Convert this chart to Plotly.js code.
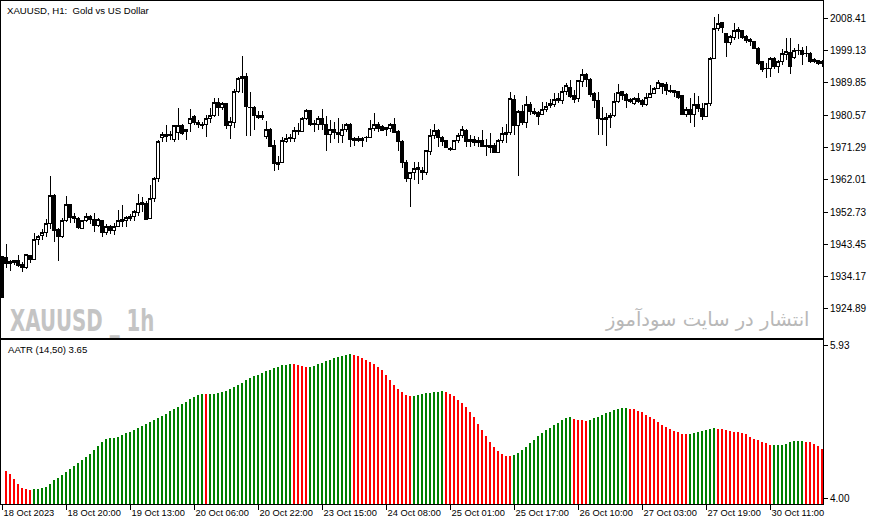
<!DOCTYPE html>
<html><head><meta charset="utf-8">
<script src="https://cdn.plot.ly/plotly-3.0.1.min.js"></script>
<style>
html,body{margin:0;padding:0;background:#fff;}
#chart{width:876px;height:525px;}
#chart .trace path, #chart .xaxislayer-above path, #chart .yaxislayer-above path, #chart path.xlines-above, #chart path.ylines-above {shape-rendering: crispEdges;}
</style>
</head><body><div id="chart"></div>
<script>
// Bar index of the first (partially hidden) candle
const firstBar = -1;

// H1 candles, XAUUSD (index -1 .. 204)
const openP = [
1939.9,
1939.8,1938.0,1938.7,1938.7,1937.8,1936.9,1940.3,1939.2,1944.9,1945.9,
1946.9,1949.5,1957.6,1947.6,1945.7,1950.3,1954.8,1951.4,1950.9,1948.0,
1950.3,1951.6,1950.7,1948.9,1950.2,1946.9,1948.6,1947.4,1948.6,1950.5,
1950.2,1951.6,1951.4,1952.6,1955.6,1955.1,1950.8,1956.7,1962.3,1974.2,
1974.5,1974.8,1973.5,1975.6,1977.5,1976.5,1978.2,1980.2,1978.4,1977.5,
1977.8,1979.5,1980.4,1984.2,1982.8,1983.8,1977.5,1978.4,1987.3,1991.2,
1991.8,1982.9,1982.8,1980.6,1979.8,1974.4,1976.5,1972.0,1967.0,1966.9,
1973.0,1974.2,1973.9,1976.3,1975.8,1979.5,1981.8,1978.0,1977.8,1979.7,
1978.0,1975.1,1976.5,1975.7,1974.8,1976.5,1978.0,1973.8,1973.4,1973.3,
1974.2,1974.2,1976.8,1978.0,1977.3,1976.9,1976.7,1978.0,1975.8,1973.0,
1967.0,1962.4,1964.0,1965.5,1964.8,1964.0,1970.2,1974.8,1976.3,1974.2,
1973.2,1971.1,1970.8,1973.2,1974.8,1976.3,1973.0,1973.6,1972.7,1973.4,
1971.8,1972.0,1972.0,1969.8,1973.3,1975.0,1975.6,1985.1,1977.5,1981.6,
1978.4,1983.5,1981.6,1981.3,1980.9,1982.1,1983.3,1983.5,1984.9,1984.9,
1987.3,1988.6,1986.1,1985.4,1990.2,1992.4,1990.9,1986.9,1984.8,1979.7,
1979.4,1980.0,1980.6,1984.5,1987.3,1986.4,1985.1,1984.0,1985.4,1984.8,
1983.5,1985.7,1986.9,1988.3,1989.7,1989.3,1987.8,1987.8,1987.3,1986.1,
1980.9,1982.3,1980.9,1983.5,1982.5,1980.1,1983.8,1996.9,2005.5,2007.2,
2003.9,2001.4,2003.0,2004.6,2004.9,2003.1,2002.2,2001.7,1999.8,1996.0,
1994.0,1994.0,1996.9,1994.5,1996.0,1997.9,1998.5,1997.2,1999.3,1999.3,
1998.4,1998.4,1996.0,1996.2,1995.3
];
const highP = [
1940.2,
1943.5,1939.0,1939.1,1940.4,1938.5,1940.6,1940.5,1946.6,1946.1,1948.0,
1950.6,1963.1,1958.0,1948.1,1950.9,1957.4,1955.0,1952.4,1951.2,1950.5,
1952.4,1951.9,1952.6,1950.9,1950.5,1949.3,1948.9,1949.7,1953.3,1954.8,
1951.6,1952.2,1953.3,1957.8,1957.1,1955.8,1960.4,1962.9,1973.4,1975.6,
1977.8,1975.9,1977.8,1982.5,1978.0,1976.5,1982.4,1980.6,1979.2,1978.6,
1980.6,1982.5,1985.6,1985.6,1984.5,1984.2,1980.1,1988.0,1991.6,1997.6,
1992.8,1987.1,1983.2,1981.8,1981.8,1978.9,1977.0,1973.4,1968.7,1974.2,
1975.1,1975.2,1977.3,1978.4,1980.1,1982.3,1982.1,1979.2,1980.3,1982.3,
1980.3,1979.2,1978.7,1979.7,1978.0,1978.4,1978.4,1974.2,1974.5,1974.2,
1974.6,1979.2,1981.3,1978.7,1977.7,1977.3,1978.4,1979.7,1976.3,1973.4,
1967.7,1964.3,1967.2,1967.2,1965.8,1970.6,1976.5,1978.0,1976.6,1974.6,
1973.4,1971.3,1973.4,1975.4,1977.6,1976.5,1974.9,1974.6,1974.4,1976.3,
1973.6,1975.4,1972.5,1973.6,1977.1,1978.0,1987.3,1986.4,1982.1,1983.5,
1986.1,1984.5,1982.5,1981.9,1984.5,1984.5,1985.1,1986.9,1987.0,1988.8,
1989.7,1990.7,1987.8,1990.7,1993.8,1992.8,1991.2,1987.3,1987.3,1983.0,
1981.1,1981.3,1986.9,1989.5,1987.6,1986.9,1985.4,1985.7,1986.9,1985.1,
1987.0,1989.3,1988.6,1990.7,1989.9,1990.2,1989.3,1987.9,1987.4,1986.2,
1983.0,1985.4,1986.9,1986.1,1984.0,1984.2,1997.2,2008.9,2009.7,2007.4,
2004.3,2003.6,2007.0,2005.8,2005.1,2003.6,2002.7,2001.8,2000.1,1996.0,
1995.7,1997.2,1997.4,1996.4,1999.5,2002.7,2002.7,1999.8,2001.0,2000.3,
2000.5,1998.8,1996.9,1996.4,1996.4
];
const lowP = [
1928.0,
1936.6,1935.9,1937.5,1936.9,1935.6,1936.3,1938.0,1939.0,1943.2,1944.7,
1945.5,1947.8,1944.2,1938.8,1945.2,1950.0,1949.5,1949.5,1948.0,1947.9,
1950.0,1949.3,1946.9,1948.5,1945.7,1946.1,1946.4,1946.0,1948.3,1948.5,
1948.3,1950.2,1950.3,1951.7,1952.8,1950.4,1950.6,1955.6,1961.4,1972.8,
1972.8,1973.4,1973.0,1973.5,1974.9,1973.5,1975.8,1977.8,1976.8,1976.6,
1974.4,1978.4,1980.1,1980.4,1982.1,1976.5,1973.6,1976.8,1986.9,1986.9,
1974.6,1974.6,1976.3,1979.4,1979.2,1973.6,1971.5,1964.6,1964.8,1966.7,
1972.5,1973.0,1972.9,1974.8,1975.6,1979.2,1977.5,1975.6,1976.3,1976.3,
1970.4,1972.7,1973.6,1972.7,1972.7,1975.8,1971.5,1971.7,1972.9,1971.5,
1973.0,1973.9,1975.9,1975.6,1976.0,1974.6,1975.8,1975.4,1970.2,1965.3,
1961.5,1954.1,1962.0,1960.8,1962.0,1963.3,1969.1,1973.8,1971.5,1971.7,
1971.0,1970.4,1970.6,1972.5,1974.0,1971.3,1971.3,1971.7,1971.3,1971.3,
1968.7,1969.6,1969.6,1969.6,1972.5,1972.5,1974.9,1974.9,1963.1,1977.8,
1976.8,1980.6,1980.6,1977.8,1980.6,1981.6,1982.5,1983.0,1984.0,1983.8,
1986.4,1985.4,1984.2,1984.5,1988.8,1988.8,1985.9,1982.7,1974.9,1974.9,
1971.7,1976.8,1980.1,1984.0,1984.9,1982.5,1984.0,1983.5,1984.0,1983.0,
1983.2,1985.4,1986.7,1988.0,1986.7,1986.4,1986.9,1985.7,1985.1,1980.6,
1980.1,1978.2,1977.1,1981.6,1979.2,1980.0,1983.2,1996.6,2004.9,2004.3,
1997.2,2000.7,2002.2,2002.4,2002.4,2001.2,2000.5,1999.5,1995.0,1993.1,
1991.2,1991.6,1993.8,1992.8,1995.0,1996.4,1992.4,1996.6,1997.9,1995.0,
1997.4,1995.7,1995.5,1994.9,1994.3
];
const closeP = [
1928.2,
1937.9,1938.5,1938.1,1937.4,1936.9,1940.4,1939.2,1944.9,1945.7,1946.9,
1949.5,1957.6,1947.5,1945.7,1950.4,1954.8,1951.2,1950.8,1948.3,1950.2,
1951.6,1950.5,1948.9,1950.5,1946.9,1948.6,1947.3,1948.7,1950.2,1949.9,
1951.2,1951.0,1952.8,1955.3,1954.9,1950.7,1956.7,1962.5,1973.0,1974.9,
1975.0,1974.9,1977.5,1977.5,1975.4,1975.9,1979.7,1978.4,1977.8,1977.9,
1979.7,1980.6,1984.2,1982.8,1983.8,1977.5,1978.7,1987.3,1991.2,1991.8,
1983.0,1982.8,1980.4,1979.8,1980.5,1976.5,1971.7,1966.7,1966.5,1973.2,
1974.0,1973.8,1976.3,1975.8,1979.7,1981.8,1977.8,1978.1,1979.7,1977.8,
1975.1,1976.5,1975.6,1974.9,1976.5,1978.0,1973.6,1973.2,1973.9,1974.0,
1974.3,1976.8,1978.0,1976.8,1976.3,1976.5,1978.0,1975.6,1972.9,1967.0,
1962.4,1964.0,1965.3,1965.0,1964.0,1970.4,1974.8,1976.3,1974.2,1973.0,
1971.3,1970.6,1973.2,1974.8,1976.5,1973.0,1973.6,1972.7,1973.4,1971.5,
1971.7,1971.3,1969.8,1973.4,1975.2,1975.6,1985.4,1977.5,1981.6,1978.4,
1983.5,1981.6,1981.1,1980.1,1982.3,1983.2,1983.8,1985.1,1985.4,1987.3,
1989.0,1985.9,1985.1,1990.4,1992.4,1990.9,1986.6,1984.8,1979.5,1979.4,
1980.0,1980.6,1984.5,1987.2,1986.2,1984.8,1984.5,1985.4,1984.5,1983.5,
1985.7,1986.9,1988.3,1989.9,1988.8,1987.6,1987.3,1987.0,1985.7,1980.9,
1982.3,1980.9,1983.5,1982.5,1980.1,1984.0,1996.9,2005.5,2007.0,2005.8,
2001.4,2003.1,2004.9,2005.1,2003.0,2002.0,2001.7,1999.8,1995.5,1993.6,
1993.9,1996.9,1994.5,1996.0,1998.2,1998.8,1994.5,1999.3,1999.1,1997.9,
1998.2,1996.0,1996.6,1995.3,1996.0
];

// AATR (14,50) values, bar index 0 .. 204
const atrValues = [
4.351,4.318,4.251,4.192,4.142,4.126,4.113,4.126,4.126,4.142,
4.155,4.192,4.238,4.263,4.301,4.343,4.376,4.418,4.451,4.489,
4.531,4.564,4.614,4.669,4.715,4.756,4.769,4.769,4.781,4.802,
4.827,4.844,4.865,4.890,4.915,4.936,4.965,4.990,5.020,5.045,
5.070,5.099,5.128,5.157,5.187,5.216,5.253,5.283,5.304,5.312,
5.312,5.312,5.316,5.324,5.337,5.354,5.375,5.404,5.429,5.458,
5.492,5.517,5.538,5.558,5.579,5.600,5.617,5.638,5.659,5.675,
5.681,5.692,5.692,5.679,5.667,5.654,5.654,5.667,5.692,5.704,
5.730,5.742,5.767,5.780,5.792,5.805,5.817,5.805,5.792,5.767,
5.742,5.717,5.692,5.654,5.617,5.554,5.491,5.429,5.379,5.341,
5.303,5.291,5.291,5.303,5.316,5.328,5.328,5.341,5.341,5.354,
5.341,5.316,5.291,5.241,5.203,5.153,5.090,5.028,4.940,4.865,
4.790,4.714,4.652,4.602,4.564,4.539,4.539,4.552,4.577,4.614,
4.652,4.702,4.740,4.790,4.827,4.865,4.890,4.927,4.953,4.990,
5.015,5.028,5.003,4.990,4.990,4.980,4.990,5.011,5.023,5.053,
5.078,5.094,5.111,5.124,5.136,5.140,5.132,5.128,5.103,5.090,
5.057,5.027,5.007,4.961,4.927,4.906,4.881,4.856,4.835,4.819,
4.815,4.815,4.831,4.844,4.856,4.869,4.881,4.894,4.877,4.877,
4.865,4.848,4.844,4.840,4.823,4.810,4.781,4.752,4.739,4.714,
4.698,4.681,4.677,4.677,4.677,4.689,4.714,4.727,4.727,4.727,
4.714,4.714,4.689,4.664,4.626
];
// G = rising (green bar), R = falling (red bar), same order as atrValues
const atrTrend = [
"RRRRRRRGGG","GGGGGGGGGG","GGGGGGGGGG","GGGGGGGGGG","GGGGGGGGGG",
"RGGGGGGGGG","GGGGGGGGGG","GGRRRRGGGG","GGGGGGGRRR","RRRRRRRRRR",
"RRGGGGGGGG","RRRRRRRRRR","RRRRRRRGGG","GGGGGGGGGG","GGRRRRGGGG",
"GGGGGGRRRR","RRRRRRRRRR","RGGGGGGGRR","RRRRRRRRRR","RRGGGGGGGG",
"RRRRR"
].join('').split('');

const priceTicks = [1924.89,1934.17,1943.45,1952.73,1962.01,1971.29,1980.57,1989.85,1999.13,2008.41];
const atrTicks = [4.00, 5.93];
const timeLabels = ["18 Oct 2023","18 Oct 20:00","19 Oct 13:00","20 Oct 06:00","20 Oct 22:00",
  "23 Oct 15:00","24 Oct 08:00","25 Oct 01:00","25 Oct 17:00","26 Oct 10:00",
  "27 Oct 03:00","27 Oct 19:00","30 Oct 11:00"];
const timeLabelBars = [0,16,32,48,64,80,96,112,128,144,160,176,192];

const headerText = "XAUUSD, H1:\u00a0 Gold vs US Dollar";
const indicatorText = "AATR (14,50) 3.65";
const watermarkText = "XAUUSD _ 1h";
const siteText = "انتشار در سایت سودآموز";

// ---------- build ----------
const xs = openP.map((_, k) => firstBar + k);
const atrX = atrValues.map((_, k) => k);
const barColors = atrTrend.map(c => c === 'G' ? '#008000' : '#ff0000');
const xRange = [-1.25, 204.25];
const tickPos = timeLabelBars.map(b => b - 0.85);

const traces = [
  {
    type: 'candlestick', x: xs, open: openP, high: highP, low: lowP, close: closeP,
    xaxis: 'x', yaxis: 'y', whiskerwidth: 0, hoverinfo: 'none',
    increasing: {line: {color: '#000000', width: 1}, fillcolor: '#ffffff'},
    decreasing: {line: {color: '#000000', width: 1}, fillcolor: '#000000'}
  },
  {
    type: 'bar', x: atrX, y: atrValues, xaxis: 'x2', yaxis: 'y2', width: 0.5,
    marker: {color: barColors, line: {width: 0}}, hoverinfo: 'none'
  }
];

const axisCommon = {showgrid: false, zeroline: false, showline: true, mirror: true,
  linecolor: '#000000', linewidth: 1, fixedrange: true, tickcolor: '#000000'};

const layout = {
  width: 876, height: 525,
  margin: {l: 1, r: 53, t: 1, b: 21, pad: 0},
  paper_bgcolor: '#ffffff', plot_bgcolor: '#ffffff',
  showlegend: false, hovermode: false, bargap: 0,
  boxgap: 0.25, boxgroupgap: 0,
  font: {family: 'Liberation Sans, Arial, sans-serif', size: 10, color: '#000000'},
  xaxis: Object.assign({}, axisCommon, {
    domain: [0, 1], anchor: 'y', range: xRange, ticks: '', showticklabels: false,
    rangeslider: {visible: false}
  }),
  yaxis: Object.assign({}, axisCommon, {
    domain: [0.330, 1], anchor: 'x', range: [1916.54, 2013.38], side: 'right',
    tickmode: 'array', tickvals: priceTicks, ticktext: priceTicks.map(v => v.toFixed(2)),
    ticks: 'outside', ticklen: 4
  }),
  xaxis2: Object.assign({}, axisCommon, {
    domain: [0, 1], anchor: 'y2', range: xRange,
    tickmode: 'array', tickvals: tickPos, ticktext: timeLabels, tickangle: 0,
    ticks: 'outside', ticklen: 5, ticklabelposition: 'outside right',
    tickfont: {size: 9.3}
  }),
  yaxis2: Object.assign({}, axisCommon, {
    domain: [0, 0.326], anchor: 'x2', range: [3.937, 5.993], side: 'right',
    tickmode: 'array', tickvals: atrTicks, ticktext: atrTicks.map(v => v.toFixed(2)),
    ticks: 'outside', ticklen: 4
  }),
  annotations: [
    {text: headerText, xref: 'paper', yref: 'paper', x: 0, y: 0.982, xanchor: 'left', yanchor: 'middle',
     xshift: 4, showarrow: false, font: {size: 9.6, color: '#000000'}},
    {text: indicatorText, xref: 'paper', yref: 'paper', x: 0, y: 0.308, xanchor: 'left', yanchor: 'middle',
     xshift: 5, showarrow: false, font: {size: 9.6, color: '#000000'}},
    {text: watermarkText, xref: 'paper', yref: 'paper', x: 0.0085, y: 0.366, xanchor: 'left', yanchor: 'middle',
     showarrow: false, font: {family: 'DejaVu Sans Condensed, sans-serif', size: 31, weight: 'bold', color: '#c4c4c4'}},
    {text: siteText, xref: 'paper', yref: 'paper', x: 0.9855, y: 0.368, xanchor: 'right', yanchor: 'middle',
     showarrow: false, font: {family: 'DejaVu Sans, sans-serif', size: 19.5, color: '#b8b8b8'}}
  ]
};

Plotly.newPlot('chart', traces, layout, {staticPlot: true, displayModeBar: false}).then(gd => {
  // narrow the bold watermark horizontally, like the condensed face in the original
  const wm = gd.querySelectorAll('.annotation')[2];
  if (wm) {
    const t = wm.querySelector('text');
    if (t) {
      t.style.transformBox = 'fill-box';
      t.style.transformOrigin = 'left center';
      t.style.transform = 'scaleX(0.71)';
    }
  }
});
</script>
</body></html>
